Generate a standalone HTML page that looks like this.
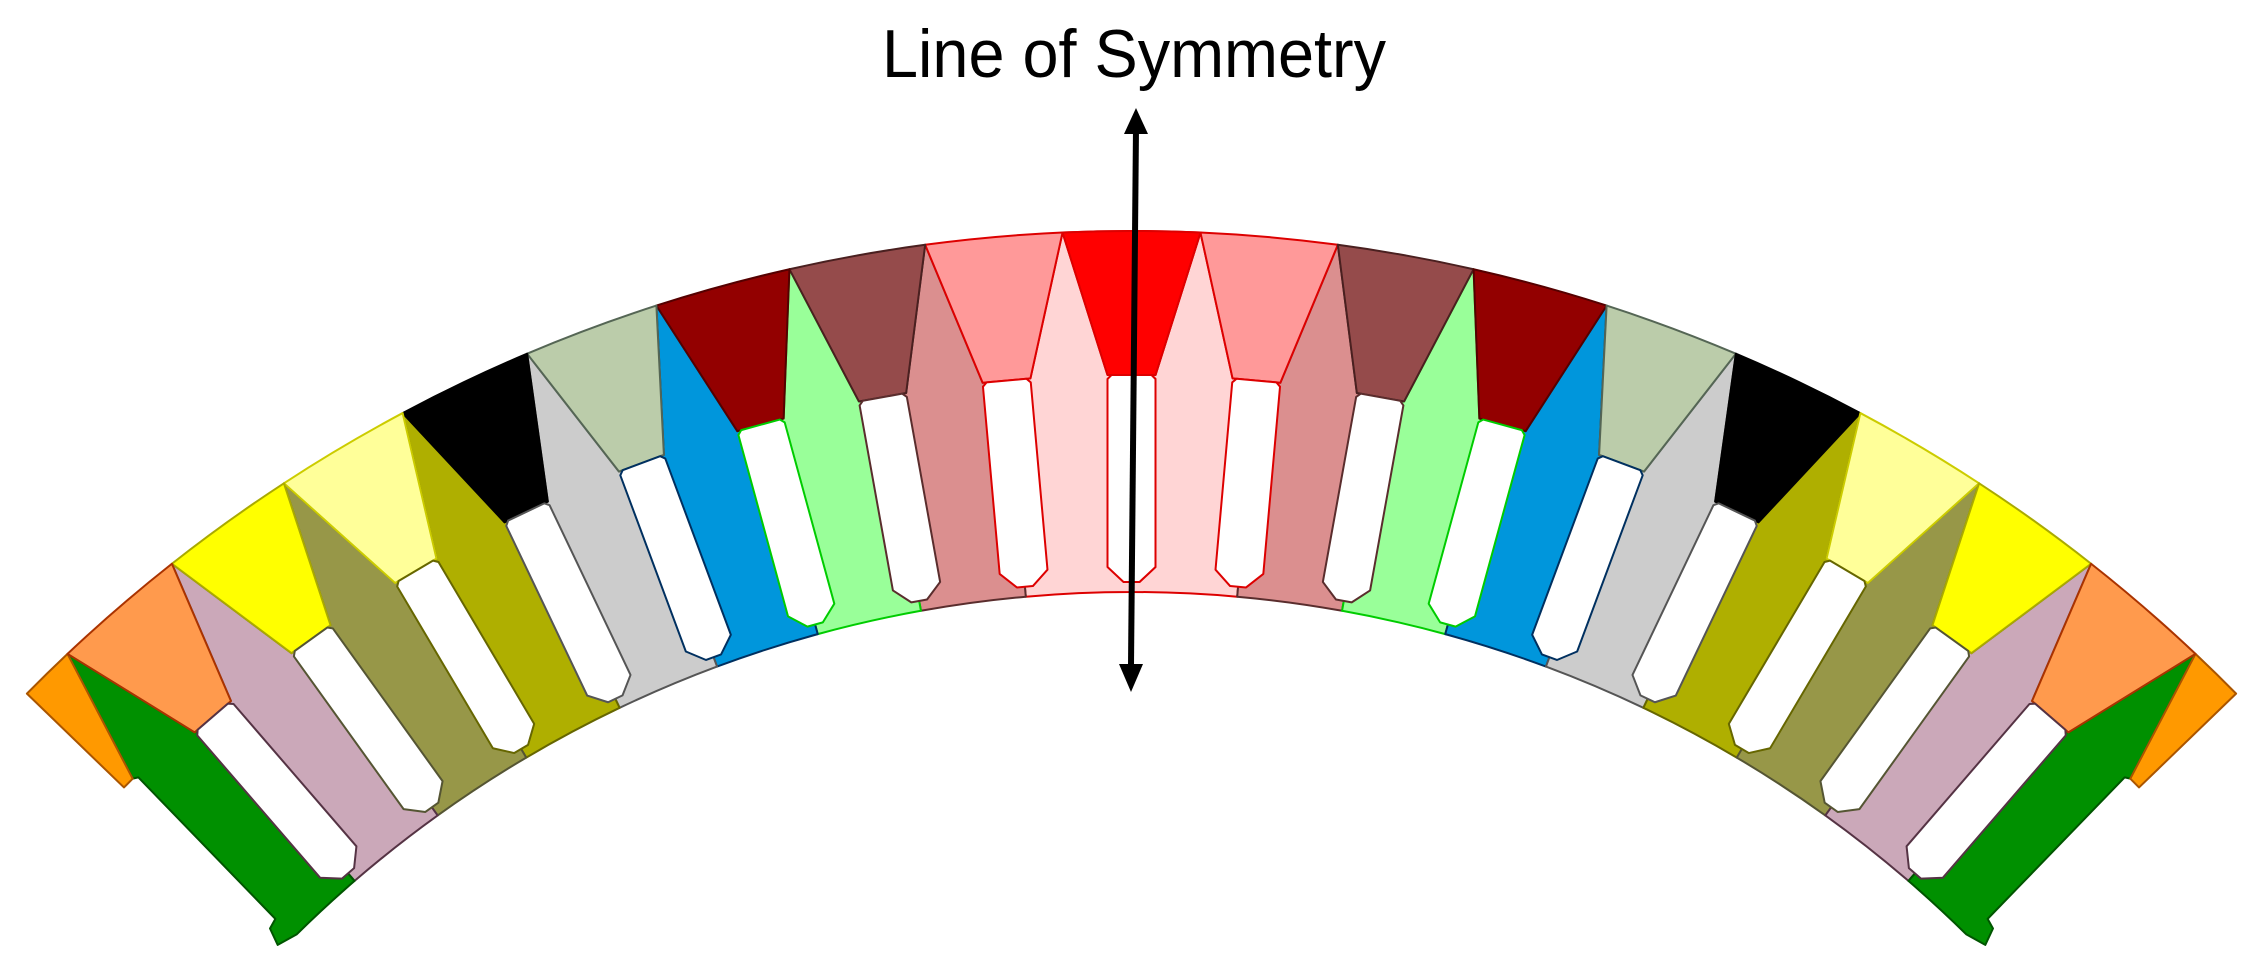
<!DOCTYPE html>
<html><head><meta charset="utf-8"><style>
html,body{margin:0;padding:0;background:#fff;}
svg{display:block;}
</style></head><body>
<svg id="s" xmlns="http://www.w3.org/2000/svg" width="2263" height="972" viewBox="0 0 2263 972">
<g id="half"></g>
<g id="mirror" transform="translate(2263,0) scale(-1,1)"></g>
<line x1="1136" y1="128" x2="1131" y2="665" stroke="#000" stroke-width="6"/>
<polygon points="1136,108 1124,134 1148,134" fill="#000"/>
<polygon points="1131,692 1119,664 1143,664" fill="#000"/>
<text x="1134" y="77" font-family="'Liberation Sans',sans-serif" font-size="68" text-anchor="middle" textLength="504" lengthAdjust="spacingAndGlyphs" fill="#000">Line of Symmetry</text>
</svg>
<script>
(function(){
var cx=1131.5, cy=1781, Ro=1550, Ri=1189, p=5.1, RS=1406, W=24;
function P(r,th,t){t=t||0;var a=th*Math.PI/180,s=Math.sin(a),c=Math.cos(a);
 return (cx+r*s+t*c).toFixed(2)+","+(cy-r*c+t*s).toFixed(2);}
var yoke=[["#ff0000","#dd0000"],["#ff9999","#dd0000"],["#954b4b","#4a2020"],["#930000","#550000"],["#bbccaa","#556655"],["#000000","#000000"],["#ffff99","#cccc00"],["#ffff00","#aaaa00"],["#ff9a4d","#aa3300"]];
var tooth=[["#ffd5d5","#dd0000"],["#db8f8f","#5a2d2d"],["#99ff99","#00cc00"],["#0096dc","#003060"],["#cccccc","#555555"],["#afaf00","#666600"],["#979748","#555533"],["#cba8b9","#553344"],["#009000","#005500"]];
var h="";
function path(d,f,s){h+='<path d="'+d+'" fill="'+f+'" stroke="'+s+'" stroke-width="2" stroke-linejoin="round"/>';}
for(var j=0;j<8;j++){
 var a=j*p,b=(j+1)*p;
 path("M"+P(RS,a,W)+" L"+P(Ro,a+p/2)+" L"+P(RS,b,-W)+" L"+P(RS,b,0)+" L"+P(Ri,b)+" A"+Ri+" "+Ri+" 0 0 0 "+P(Ri,a)+" L"+P(RS,a,0)+" Z",tooth[j][0],tooth[j][1]);
}
var a8=8*p;
path("M"+P(RS,a8,W)+" L"+P(Ro,a8+p/2)+" L"+P(1415,44.9)+" L"+P(1412,44.7)+" L"+P(1215,44.8)+" L"+P(1212,45.3)+" L"+P(1195,45.6)+" L"+P(1189,44.6)+" A"+Ri+" "+Ri+" 0 0 0 "+P(Ri,a8)+" L"+P(RS,a8,0)+" Z",tooth[8][0],tooth[8][1]);
path("M"+P(Ro,a8+p/2)+" A"+Ro+" "+Ro+" 0 0 1 "+P(Ro,45.45)+" L"+P(1415,45.4)+" L"+P(1415,44.9)+" Z","#ff9900","#aa5500");
for(var k=0;k<9;k++){
 var t=k*p;
 path("M"+P(Ro,t-p/2)+" A"+Ro+" "+Ro+" 0 0 1 "+P(Ro,t+p/2)+" L"+P(RS,t,W)+" L"+P(RS,t,-W)+" Z",yoke[k][0],yoke[k][1]);
}
for(var k=0;k<9;k++){
 var t=k*p, sc=(k==0?"#dd0000":tooth[Math.max(0,k-1)][1]);
 path("M"+P(RS,t,-W+4)+" L"+P(RS,t,W-4)+" L"+P(RS-4,t,W)+" L"+P(1214,t,W)+" L"+P(1199,t,8)+" L"+P(1199,t,-8)+" L"+P(1214,t,-W)+" L"+P(RS-4,t,-W)+" Z","#ffffff",sc);
}
document.getElementById("half").innerHTML=h;
document.getElementById("mirror").innerHTML=h;
})();
</script>
</body></html>
